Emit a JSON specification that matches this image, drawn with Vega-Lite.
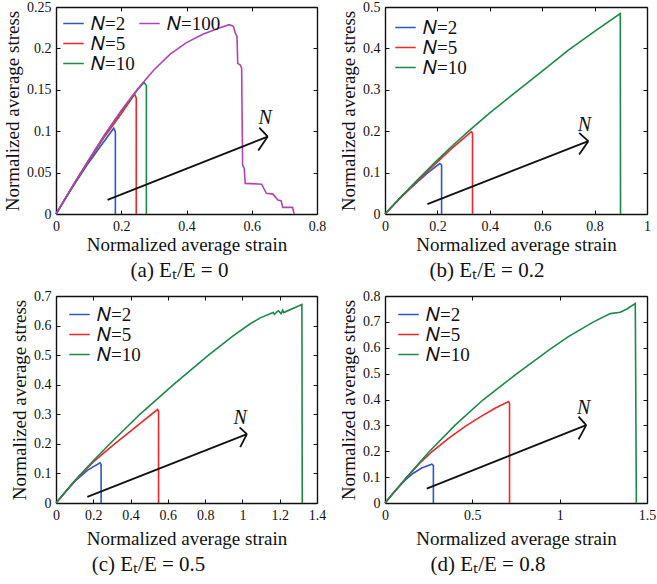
{
  "$schema": "https://vega.github.io/schema/vega-lite/v6.json",
  "background": "white",
  "padding": {"left": 3, "top": 0, "right": 0, "bottom": 0},
  "spacing": 8,
  "datasets": {
    "a_lines": [
      {"series": "𝑁=2", "strain": 0, "stress": 0},
      {"series": "𝑁=2", "strain": 0.05, "stress": 0.032},
      {"series": "𝑁=2", "strain": 0.1, "stress": 0.062},
      {"series": "𝑁=2", "strain": 0.146, "stress": 0.087},
      {"series": "𝑁=2", "strain": 0.177, "stress": 0.1036},
      {"series": "𝑁=2", "strain": 0.182, "stress": 0.099},
      {"series": "𝑁=2", "strain": 0.182, "stress": 0},
      {"series": "𝑁=5", "strain": 0, "stress": 0},
      {"series": "𝑁=5", "strain": 0.05, "stress": 0.033},
      {"series": "𝑁=5", "strain": 0.1, "stress": 0.064},
      {"series": "𝑁=5", "strain": 0.15, "stress": 0.094},
      {"series": "𝑁=5", "strain": 0.2, "stress": 0.121},
      {"series": "𝑁=5", "strain": 0.241, "stress": 0.1447},
      {"series": "𝑁=5", "strain": 0.246, "stress": 0.14},
      {"series": "𝑁=5", "strain": 0.246, "stress": 0},
      {"series": "𝑁=10", "strain": 0, "stress": 0},
      {"series": "𝑁=10", "strain": 0.05, "stress": 0.033},
      {"series": "𝑁=10", "strain": 0.1, "stress": 0.065},
      {"series": "𝑁=10", "strain": 0.15, "stress": 0.096},
      {"series": "𝑁=10", "strain": 0.2, "stress": 0.124},
      {"series": "𝑁=10", "strain": 0.25, "stress": 0.15},
      {"series": "𝑁=10", "strain": 0.27, "stress": 0.159},
      {"series": "𝑁=10", "strain": 0.277, "stress": 0.155},
      {"series": "𝑁=10", "strain": 0.277, "stress": 0}
    ],
    "a_n100": [
      {"series": "𝑁=100", "strain": 0, "stress": 0},
      {"series": "𝑁=100", "strain": 0.05, "stress": 0.033},
      {"series": "𝑁=100", "strain": 0.1, "stress": 0.065},
      {"series": "𝑁=100", "strain": 0.15, "stress": 0.096},
      {"series": "𝑁=100", "strain": 0.2, "stress": 0.125},
      {"series": "𝑁=100", "strain": 0.25, "stress": 0.151},
      {"series": "𝑁=100", "strain": 0.3, "stress": 0.174},
      {"series": "𝑁=100", "strain": 0.35, "stress": 0.193},
      {"series": "𝑁=100", "strain": 0.4, "stress": 0.207},
      {"series": "𝑁=100", "strain": 0.45, "stress": 0.217},
      {"series": "𝑁=100", "strain": 0.5, "stress": 0.2245},
      {"series": "𝑁=100", "strain": 0.531, "stress": 0.2286},
      {"series": "𝑁=100", "strain": 0.5435, "stress": 0.2266},
      {"series": "𝑁=100", "strain": 0.5495, "stress": 0.2185},
      {"series": "𝑁=100", "strain": 0.5548, "stress": 0.2145},
      {"series": "𝑁=100", "strain": 0.557, "stress": 0.182},
      {"series": "𝑁=100", "strain": 0.565, "stress": 0.18},
      {"series": "𝑁=100", "strain": 0.569, "stress": 0.176},
      {"series": "𝑁=100", "strain": 0.572, "stress": 0.059},
      {"series": "𝑁=100", "strain": 0.577, "stress": 0.055},
      {"series": "𝑁=100", "strain": 0.58, "stress": 0.037},
      {"series": "𝑁=100", "strain": 0.63, "stress": 0.036},
      {"series": "𝑁=100", "strain": 0.645, "stress": 0.025},
      {"series": "𝑁=100", "strain": 0.665, "stress": 0.024},
      {"series": "𝑁=100", "strain": 0.68, "stress": 0.017},
      {"series": "𝑁=100", "strain": 0.69, "stress": 0.016},
      {"series": "𝑁=100", "strain": 0.695, "stress": 0.008},
      {"series": "𝑁=100", "strain": 0.725, "stress": 0.008},
      {"series": "𝑁=100", "strain": 0.73, "stress": 0}
    ],
    "a_arrow": [
      {"strain": 0.158, "stress": 0.017, "strain2": 0.649, "stress2": 0.0935},
      {"strain": 0.623, "stress": 0.1044, "strain2": 0.649, "stress2": 0.0935},
      {"strain": 0.62, "stress": 0.0766, "strain2": 0.649, "stress2": 0.0935}
    ],
    "a_text": [{"strain": 0.641, "stress": 0.1157, "label": "N"}],
    "b_lines": [
      {"series": "𝑁=2", "strain": 0, "stress": 0},
      {"series": "𝑁=2", "strain": 0.063, "stress": 0.042},
      {"series": "𝑁=2", "strain": 0.126, "stress": 0.079},
      {"series": "𝑁=2", "strain": 0.164, "stress": 0.1},
      {"series": "𝑁=2", "strain": 0.209, "stress": 0.122},
      {"series": "𝑁=2", "strain": 0.216, "stress": 0.118},
      {"series": "𝑁=2", "strain": 0.216, "stress": 0},
      {"series": "𝑁=5", "strain": 0, "stress": 0},
      {"series": "𝑁=5", "strain": 0.063, "stress": 0.042},
      {"series": "𝑁=5", "strain": 0.126, "stress": 0.081},
      {"series": "𝑁=5", "strain": 0.19, "stress": 0.12},
      {"series": "𝑁=5", "strain": 0.254, "stress": 0.158},
      {"series": "𝑁=5", "strain": 0.33, "stress": 0.199},
      {"series": "𝑁=5", "strain": 0.334, "stress": 0.195},
      {"series": "𝑁=5", "strain": 0.334, "stress": 0},
      {"series": "𝑁=10", "strain": 0, "stress": 0},
      {"series": "𝑁=10", "strain": 0.063, "stress": 0.043},
      {"series": "𝑁=10", "strain": 0.126, "stress": 0.084},
      {"series": "𝑁=10", "strain": 0.19, "stress": 0.124},
      {"series": "𝑁=10", "strain": 0.254, "stress": 0.163},
      {"series": "𝑁=10", "strain": 0.33, "stress": 0.206},
      {"series": "𝑁=10", "strain": 0.4, "stress": 0.244},
      {"series": "𝑁=10", "strain": 0.5, "stress": 0.295},
      {"series": "𝑁=10", "strain": 0.6, "stress": 0.345},
      {"series": "𝑁=10", "strain": 0.7, "stress": 0.396},
      {"series": "𝑁=10", "strain": 0.8, "stress": 0.441},
      {"series": "𝑁=10", "strain": 0.898, "stress": 0.484},
      {"series": "𝑁=10", "strain": 0.899, "stress": 0}
    ],
    "b_arrow": [
      {"strain": 0.162, "stress": 0.024, "strain2": 0.776, "stress2": 0.176},
      {"strain": 0.741, "stress": 0.196, "strain2": 0.776, "stress2": 0.176},
      {"strain": 0.741, "stress": 0.1435, "strain2": 0.776, "stress2": 0.176}
    ],
    "b_text": [{"strain": 0.761, "stress": 0.216, "label": "N"}],
    "c_lines": [
      {"series": "𝑁=2", "strain": 0, "stress": 0},
      {"series": "𝑁=2", "strain": 0.1, "stress": 0.073},
      {"series": "𝑁=2", "strain": 0.17, "stress": 0.111},
      {"series": "𝑁=2", "strain": 0.236, "stress": 0.136},
      {"series": "𝑁=2", "strain": 0.242, "stress": 0.13},
      {"series": "𝑁=2", "strain": 0.242, "stress": 0},
      {"series": "𝑁=5", "strain": 0, "stress": 0},
      {"series": "𝑁=5", "strain": 0.1, "stress": 0.074},
      {"series": "𝑁=5", "strain": 0.2, "stress": 0.139},
      {"series": "𝑁=5", "strain": 0.3, "stress": 0.192},
      {"series": "𝑁=5", "strain": 0.4, "stress": 0.243},
      {"series": "𝑁=5", "strain": 0.48, "stress": 0.284},
      {"series": "𝑁=5", "strain": 0.544, "stress": 0.316},
      {"series": "𝑁=5", "strain": 0.55, "stress": 0.31},
      {"series": "𝑁=5", "strain": 0.55, "stress": 0},
      {"series": "𝑁=10", "strain": 0, "stress": 0},
      {"series": "𝑁=10", "strain": 0.1, "stress": 0.075},
      {"series": "𝑁=10", "strain": 0.2, "stress": 0.143},
      {"series": "𝑁=10", "strain": 0.3, "stress": 0.207},
      {"series": "𝑁=10", "strain": 0.45, "stress": 0.3},
      {"series": "𝑁=10", "strain": 0.63, "stress": 0.4},
      {"series": "𝑁=10", "strain": 0.818, "stress": 0.5},
      {"series": "𝑁=10", "strain": 0.95, "stress": 0.565},
      {"series": "𝑁=10", "strain": 1.042, "stress": 0.606},
      {"series": "𝑁=10", "strain": 1.096, "stress": 0.626},
      {"series": "𝑁=10", "strain": 1.149, "stress": 0.64},
      {"series": "𝑁=10", "strain": 1.164, "stress": 0.644},
      {"series": "𝑁=10", "strain": 1.171, "stress": 0.638},
      {"series": "𝑁=10", "strain": 1.185, "stress": 0.646},
      {"series": "𝑁=10", "strain": 1.194, "stress": 0.65},
      {"series": "𝑁=10", "strain": 1.207, "stress": 0.64},
      {"series": "𝑁=10", "strain": 1.216, "stress": 0.652},
      {"series": "𝑁=10", "strain": 1.221, "stress": 0.644},
      {"series": "𝑁=10", "strain": 1.319, "stress": 0.671},
      {"series": "𝑁=10", "strain": 1.321, "stress": 0}
    ],
    "c_arrow": [
      {"strain": 0.168, "stress": 0.0205, "strain2": 1.024, "stress2": 0.233},
      {"strain": 0.985, "stress": 0.256, "strain2": 1.024, "stress2": 0.233},
      {"strain": 0.988, "stress": 0.189, "strain2": 1.024, "stress2": 0.233}
    ],
    "c_text": [{"strain": 0.988, "stress": 0.288, "label": "N"}],
    "d_lines": [
      {"series": "𝑁=2", "strain": 0, "stress": 0},
      {"series": "𝑁=2", "strain": 0.06, "stress": 0.048},
      {"series": "𝑁=2", "strain": 0.115, "stress": 0.088},
      {"series": "𝑁=2", "strain": 0.16, "stress": 0.114},
      {"series": "𝑁=2", "strain": 0.21, "stress": 0.135},
      {"series": "𝑁=2", "strain": 0.2675, "stress": 0.15},
      {"series": "𝑁=2", "strain": 0.277, "stress": 0.145},
      {"series": "𝑁=2", "strain": 0.277, "stress": 0},
      {"series": "𝑁=5", "strain": 0, "stress": 0},
      {"series": "𝑁=5", "strain": 0.06, "stress": 0.048},
      {"series": "𝑁=5", "strain": 0.125, "stress": 0.099},
      {"series": "𝑁=5", "strain": 0.2, "stress": 0.155},
      {"series": "𝑁=5", "strain": 0.27, "stress": 0.199},
      {"series": "𝑁=5", "strain": 0.36, "stress": 0.248},
      {"series": "𝑁=5", "strain": 0.459, "stress": 0.296},
      {"series": "𝑁=5", "strain": 0.55, "stress": 0.335},
      {"series": "𝑁=5", "strain": 0.63, "stress": 0.366},
      {"series": "𝑁=5", "strain": 0.707, "stress": 0.392},
      {"series": "𝑁=5", "strain": 0.713, "stress": 0.385},
      {"series": "𝑁=5", "strain": 0.713, "stress": 0},
      {"series": "𝑁=10", "strain": 0, "stress": 0},
      {"series": "𝑁=10", "strain": 0.06, "stress": 0.048},
      {"series": "𝑁=10", "strain": 0.125, "stress": 0.1},
      {"series": "𝑁=10", "strain": 0.25, "stress": 0.196},
      {"series": "𝑁=10", "strain": 0.4, "stress": 0.3},
      {"series": "𝑁=10", "strain": 0.56, "stress": 0.398},
      {"series": "𝑁=10", "strain": 0.755, "stress": 0.5},
      {"series": "𝑁=10", "strain": 0.94, "stress": 0.592},
      {"series": "𝑁=10", "strain": 1.05, "stress": 0.643},
      {"series": "𝑁=10", "strain": 1.194, "stress": 0.7},
      {"series": "𝑁=10", "strain": 1.29, "stress": 0.732},
      {"series": "𝑁=10", "strain": 1.347, "stress": 0.737},
      {"series": "𝑁=10", "strain": 1.385, "stress": 0.75},
      {"series": "𝑁=10", "strain": 1.433, "stress": 0.771},
      {"series": "𝑁=10", "strain": 1.439, "stress": 0}
    ],
    "d_arrow": [
      {"strain": 0.239, "stress": 0.0556, "strain2": 1.152, "stress2": 0.301},
      {"strain": 1.108, "stress": 0.334, "strain2": 1.152, "stress2": 0.301},
      {"strain": 1.108, "stress": 0.246, "strain2": 1.152, "stress2": 0.301}
    ],
    "d_text": [{"strain": 1.137, "stress": 0.366, "label": "N"}]
  },
  "resolve": {
    "scale": {"color": "independent", "stroke": "independent"},
    "legend": {"color": "independent", "stroke": "independent"}
  },
  "vconcat": [
    {
      "spacing": 13,
      "resolve": {
        "scale": {"color": "independent", "stroke": "independent"},
        "legend": {"color": "independent", "stroke": "independent"}
      },
      "hconcat": [
        {
          "width": 261,
          "height": 207,
          "title": {"text": "(a) Eₜ/E = 0", "dx": -7},
          "layer": [
            {
              "data": {"name": "a_lines"},
              "mark": {"type": "line", "strokeWidth": 1.6},
              "encoding": {
                "x": {"field": "strain", "type": "quantitative", "scale": {"domain": [0, 0.8], "nice": false}, "axis": {"orient": "bottom", "format": "~g", "labelFont": "Liberation Serif", "titleFont": "Liberation Serif", "titlePadding": 2, "values": [0, 0.2, 0.4, 0.6, 0.8], "title": "Normalized average strain"}},
                "y": {"field": "stress", "type": "quantitative", "scale": {"domain": [0, 0.25], "nice": false}, "axis": {"orient": "left", "format": "~g", "labelFont": "Liberation Serif", "titleFont": "Liberation Serif", "values": [0, 0.05, 0.1, 0.15, 0.2, 0.25], "title": "Normalized average stress"}},
                "color": {"field": "series", "type": "nominal", "scale": {"domain": ["𝑁=2", "𝑁=5", "𝑁=10"], "range": ["#2f55c8", "#f0262a", "#1b8a48"]}, "legend": {"title": null, "labelFont": "Liberation Serif", "legendX": 6, "legendY": 7}},
                "order": {"value": null}
              }
            },
            {
              "data": {"name": "a_n100"},
              "mark": {"type": "line", "strokeWidth": 1.6},
              "encoding": {
                "x": {"field": "strain", "type": "quantitative", "scale": {"domain": [0, 0.8], "nice": false}, "axis": null},
                "y": {"field": "stress", "type": "quantitative", "scale": {"domain": [0, 0.25], "nice": false}, "axis": null},
                "stroke": {"field": "series", "type": "nominal", "scale": {"domain": ["𝑁=100"], "range": ["#b043b5"]}, "legend": {"title": null, "labelFont": "Liberation Serif", "legendX": 82, "legendY": 7}},
                "order": {"value": null}
              }
            },
            {
              "data": {"name": "a_arrow"},
              "mark": {"type": "rule", "color": "#111", "strokeWidth": 1.8},
              "encoding": {
                "x": {"field": "strain", "type": "quantitative", "scale": {"domain": [0, 0.8], "nice": false}, "axis": {"orient": "top", "values": [0, 0.2, 0.4, 0.6, 0.8], "labels": false, "title": null}},
                "y": {"field": "stress", "type": "quantitative", "scale": {"domain": [0, 0.25], "nice": false}, "axis": {"orient": "right", "values": [0, 0.05, 0.1, 0.15, 0.2, 0.25], "labels": false, "title": null}},
                "x2": {"field": "strain2"},
                "y2": {"field": "stress2"}
              }
            },
            {
              "data": {"name": "a_text"},
              "mark": {"type": "text", "font": "Liberation Serif", "fontStyle": "italic", "fontSize": 20, "color": "#111"},
              "encoding": {
                "x": {"field": "strain", "type": "quantitative", "scale": {"domain": [0, 0.8], "nice": false}, "axis": null},
                "y": {"field": "stress", "type": "quantitative", "scale": {"domain": [0, 0.25], "nice": false}, "axis": null},
                "text": {"field": "label"}
              }
            }
          ]
        },
        {
          "width": 262,
          "height": 207,
          "title": {"text": "(b) Eₜ/E = 0.2", "dx": -29},
          "layer": [
            {
              "data": {"name": "b_lines"},
              "mark": {"type": "line", "strokeWidth": 1.6},
              "encoding": {
                "x": {"field": "strain", "type": "quantitative", "scale": {"domain": [0, 1], "nice": false}, "axis": {"orient": "bottom", "format": "~g", "labelFont": "Liberation Serif", "titleFont": "Liberation Serif", "titlePadding": 2, "values": [0, 0.2, 0.4, 0.6, 0.8, 1], "title": "Normalized average strain"}},
                "y": {"field": "stress", "type": "quantitative", "scale": {"domain": [0, 0.5], "nice": false}, "axis": {"orient": "left", "format": "~g", "labelFont": "Liberation Serif", "titleFont": "Liberation Serif", "values": [0, 0.1, 0.2, 0.3, 0.4, 0.5], "title": "Normalized average stress"}},
                "color": {"field": "series", "type": "nominal", "scale": {"domain": ["𝑁=2", "𝑁=5", "𝑁=10"], "range": ["#2f55c8", "#f0262a", "#1b8a48"]}, "legend": {"title": null, "labelFont": "Liberation Serif", "legendX": 9, "legendY": 11}},
                "order": {"value": null}
              }
            },
            {
              "data": {"name": "b_arrow"},
              "mark": {"type": "rule", "color": "#111", "strokeWidth": 1.8},
              "encoding": {
                "x": {"field": "strain", "type": "quantitative", "scale": {"domain": [0, 1], "nice": false}, "axis": {"orient": "top", "values": [0, 0.2, 0.4, 0.6, 0.8, 1], "labels": false, "title": null}},
                "y": {"field": "stress", "type": "quantitative", "scale": {"domain": [0, 0.5], "nice": false}, "axis": {"orient": "right", "values": [0, 0.1, 0.2, 0.3, 0.4, 0.5], "labels": false, "title": null}},
                "x2": {"field": "strain2"},
                "y2": {"field": "stress2"}
              }
            },
            {
              "data": {"name": "b_text"},
              "mark": {"type": "text", "font": "Liberation Serif", "fontStyle": "italic", "fontSize": 20, "color": "#111"},
              "encoding": {
                "x": {"field": "strain", "type": "quantitative", "scale": {"domain": [0, 1], "nice": false}, "axis": null},
                "y": {"field": "stress", "type": "quantitative", "scale": {"domain": [0, 0.5], "nice": false}, "axis": null},
                "text": {"field": "label"}
              }
            }
          ]
        }
      ]
    },
    {
      "spacing": 13,
      "resolve": {
        "scale": {"color": "independent", "stroke": "independent"},
        "legend": {"color": "independent", "stroke": "independent"}
      },
      "hconcat": [
        {
          "width": 261,
          "height": 207,
          "title": {"text": "(c) Eₜ/E = 0.5", "dx": -38},
          "layer": [
            {
              "data": {"name": "c_lines"},
              "mark": {"type": "line", "strokeWidth": 1.6},
              "encoding": {
                "x": {"field": "strain", "type": "quantitative", "scale": {"domain": [0, 1.4], "nice": false}, "axis": {"orient": "bottom", "format": "~g", "labelFont": "Liberation Serif", "titleFont": "Liberation Serif", "titlePadding": 7, "values": [0, 0.2, 0.4, 0.6, 0.8, 1, 1.2, 1.4], "title": "Normalized average strain"}},
                "y": {"field": "stress", "type": "quantitative", "scale": {"domain": [0, 0.7], "nice": false}, "axis": {"orient": "left", "format": "~g", "labelFont": "Liberation Serif", "titleFont": "Liberation Serif", "values": [0, 0.1, 0.2, 0.3, 0.4, 0.5, 0.6, 0.7], "title": "Normalized average stress"}},
                "color": {"field": "series", "type": "nominal", "scale": {"domain": ["𝑁=2", "𝑁=5", "𝑁=10"], "range": ["#2f55c8", "#f0262a", "#1b8a48"]}, "legend": {"title": null, "labelFont": "Liberation Serif", "legendX": 12, "legendY": 9}},
                "order": {"value": null}
              }
            },
            {
              "data": {"name": "c_arrow"},
              "mark": {"type": "rule", "color": "#111", "strokeWidth": 1.8},
              "encoding": {
                "x": {"field": "strain", "type": "quantitative", "scale": {"domain": [0, 1.4], "nice": false}, "axis": {"orient": "top", "values": [0, 0.2, 0.4, 0.6, 0.8, 1, 1.2, 1.4], "labels": false, "title": null}},
                "y": {"field": "stress", "type": "quantitative", "scale": {"domain": [0, 0.7], "nice": false}, "axis": {"orient": "right", "values": [0, 0.1, 0.2, 0.3, 0.4, 0.5, 0.6, 0.7], "labels": false, "title": null}},
                "x2": {"field": "strain2"},
                "y2": {"field": "stress2"}
              }
            },
            {
              "data": {"name": "c_text"},
              "mark": {"type": "text", "font": "Liberation Serif", "fontStyle": "italic", "fontSize": 20, "color": "#111"},
              "encoding": {
                "x": {"field": "strain", "type": "quantitative", "scale": {"domain": [0, 1.4], "nice": false}, "axis": null},
                "y": {"field": "stress", "type": "quantitative", "scale": {"domain": [0, 0.7], "nice": false}, "axis": null},
                "text": {"field": "label"}
              }
            }
          ]
        },
        {
          "width": 262,
          "height": 207,
          "title": {"text": "(d) Eₜ/E = 0.8", "dx": -28},
          "layer": [
            {
              "data": {"name": "d_lines"},
              "mark": {"type": "line", "strokeWidth": 1.6},
              "encoding": {
                "x": {"field": "strain", "type": "quantitative", "scale": {"domain": [0, 1.5], "nice": false}, "axis": {"orient": "bottom", "format": "~g", "labelFont": "Liberation Serif", "titleFont": "Liberation Serif", "titlePadding": 7, "values": [0, 0.5, 1, 1.5], "title": "Normalized average strain"}},
                "y": {"field": "stress", "type": "quantitative", "scale": {"domain": [0, 0.8], "nice": false}, "axis": {"orient": "left", "format": "~g", "labelFont": "Liberation Serif", "titleFont": "Liberation Serif", "values": [0, 0.1, 0.2, 0.3, 0.4, 0.5, 0.6, 0.7, 0.8], "title": "Normalized average stress"}},
                "color": {"field": "series", "type": "nominal", "scale": {"domain": ["𝑁=2", "𝑁=5", "𝑁=10"], "range": ["#2f55c8", "#f0262a", "#1b8a48"]}, "legend": {"title": null, "labelFont": "Liberation Serif", "legendX": 12, "legendY": 9}},
                "order": {"value": null}
              }
            },
            {
              "data": {"name": "d_arrow"},
              "mark": {"type": "rule", "color": "#111", "strokeWidth": 1.8},
              "encoding": {
                "x": {"field": "strain", "type": "quantitative", "scale": {"domain": [0, 1.5], "nice": false}, "axis": {"orient": "top", "values": [0, 0.5, 1, 1.5], "labels": false, "title": null}},
                "y": {"field": "stress", "type": "quantitative", "scale": {"domain": [0, 0.8], "nice": false}, "axis": {"orient": "right", "values": [0, 0.1, 0.2, 0.3, 0.4, 0.5, 0.6, 0.7, 0.8], "labels": false, "title": null}},
                "x2": {"field": "strain2"},
                "y2": {"field": "stress2"}
              }
            },
            {
              "data": {"name": "d_text"},
              "mark": {"type": "text", "font": "Liberation Serif", "fontStyle": "italic", "fontSize": 20, "color": "#111"},
              "encoding": {
                "x": {"field": "strain", "type": "quantitative", "scale": {"domain": [0, 1.5], "nice": false}, "axis": null},
                "y": {"field": "stress", "type": "quantitative", "scale": {"domain": [0, 0.8], "nice": false}, "axis": null},
                "text": {"field": "label"}
              }
            }
          ]
        }
      ]
    }
  ],
  "config": {
    "font": "Liberation Serif",
    "view": {"stroke": null},
    "style": {
      "guide-label": {"font": "Liberation Serif"},
      "guide-title": {"font": "Liberation Serif"}
    },
    "axis": {
      "labelFont": "Liberation Serif",
      "labelFontSize": 14,
      "labelColor": "#111",
      "labelPadding": 9,
      "labelFlush": false,
      "labelOverlap": false,
      "titleFont": "Liberation Serif",
      "titleFontSize": 19,
      "titleFontWeight": "normal",
      "titleColor": "#111",
      "titlePadding": 4,
      "domainColor": "#111",
      "domainWidth": 1.4,
      "tickColor": "#111",
      "tickSize": -4,
      "tickWidth": 1,
      "grid": false
    },
    "legend": {
      "orient": "none",
      "symbolType": "stroke",
      "symbolSize": 420,
      "symbolStrokeWidth": 1.6,
      "clipHeight": 19,
      "labelFont": "Liberation Serif",
      "labelFontSize": 19,
      "labelColor": "#111",
      "labelOffset": 6,
      "rowPadding": -1,
      "padding": 0
    },
    "title": {
      "orient": "bottom",
      "anchor": "middle",
      "frame": "group",
      "font": "Liberation Serif",
      "fontSize": 21,
      "fontWeight": "normal",
      "color": "#111",
      "offset": 6
    }
  }
}
